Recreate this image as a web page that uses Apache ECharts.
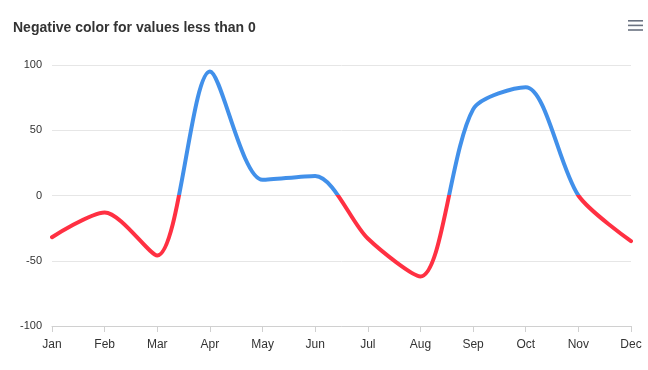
<!DOCTYPE html>
<html>
<head>
<meta charset="utf-8">
<script src="https://cdn.jsdelivr.net/npm/echarts@6/dist/echarts.min.js"></script>
<style>html,body{margin:0;padding:0;background:#fff}#c{width:648px;height:370px}</style>
</head>
<body>
<div id="c"></div>
<script>
const categories = ['Jan','Feb','Mar','Apr','May','Jun','Jul','Aug','Sep','Oct','Nov','Dec'];
const values = [-32, -13, -46, 95, 12, 15, -33, -62, 66, 83, 0, -35];
const yTicks = { min: -100, max: 100, interval: 50 };
const titleText = 'Negative color for values less than 0';

const chart = echarts.init(document.getElementById('c'), null, { renderer: 'canvas' });
chart.setOption({
  animation: false,
  backgroundColor: '#ffffff',
  title: {
    text: titleText,
    left: 8, top: 16,
    textStyle: { fontFamily: 'Liberation Sans, Arial, sans-serif', fontSize: 14, fontWeight: 'bold', color: '#333333' }
  },
  graphic: [
    { type: 'rect', left: 628, top: 20, shape: { width: 15, height: 1.6 }, style: { fill: '#6a7280' } },
    { type: 'rect', left: 628, top: 24.6, shape: { width: 15, height: 1.6 }, style: { fill: '#6a7280' } },
    { type: 'rect', left: 628, top: 29.2, shape: { width: 15, height: 1.6 }, style: { fill: '#6a7280' } }
  ],
  grid: { left: 52, right: 17, top: 65, bottom: 44, containLabel: false },
  xAxis: {
    type: 'category',
    data: categories,
    boundaryGap: false,
    axisLine: { onZero: false, lineStyle: { color: '#d0d0d0', width: 1 } },
    axisTick: { show: true, length: 6, lineStyle: { color: '#d0d0d0' } },
    axisLabel: { color: '#333333', fontSize: 12, fontFamily: 'Liberation Sans, Arial, sans-serif', margin: 13 },
    splitLine: { show: false }
  },
  yAxis: {
    type: 'value',
    min: yTicks.min, max: yTicks.max, interval: yTicks.interval,
    axisLine: { show: false },
    axisTick: { show: false },
    axisLabel: { color: '#333333', fontSize: 11, fontFamily: 'Liberation Sans, Arial, sans-serif', margin: 10 },
    splitLine: { lineStyle: { color: '#e6e6e6', width: 1 } }
  },
  visualMap: {
    show: false,
    type: 'piecewise',
    dimension: 1,
    seriesIndex: 0,
    pieces: [
      { gt: 0, lte: 100, color: '#4190ea' },
      { gte: -100, lte: 0, color: '#ff3042' }
    ]
  },
  series: [{
    type: 'line',
    data: values,
    smooth: 0.28,
    showSymbol: false,
    lineStyle: { width: 4, cap: 'round', join: 'round' }
  }]
});
</script>
</body>
</html>
